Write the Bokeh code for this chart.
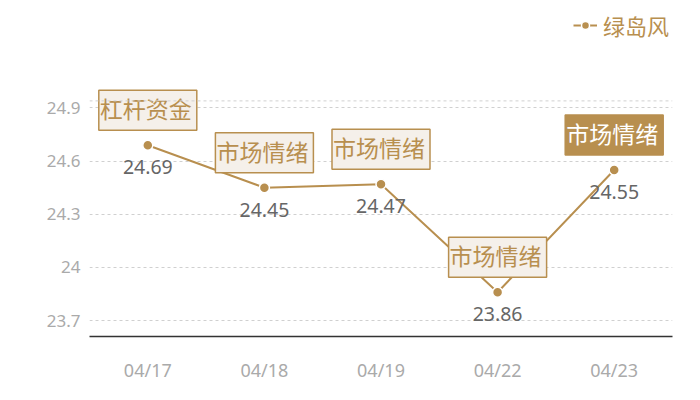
from bokeh.plotting import figure
from bokeh.models import (ColumnDataSource, FixedTicker, Legend, LegendItem, Span)
from bokeh.core.properties import value
from bokeh.embed import file_html
from bokeh.resources import INLINE

dates = ["04/17", "04/18", "04/19", "04/22", "04/23"]
prices = [24.69, 24.45, 24.47, 23.86, 24.55]
tags = ["杠杆资金", "市场情绪", "市场情绪", "市场情绪", "市场情绪"]
highlight = [False, False, False, False, True]
series_name = "绿岛风"
y_ticks = [23.7, 24.0, 24.3, 24.6, 24.9]
y_tick_labels = ["23.7", "24", "24.3", "24.6", "24.9"]
y_min, y_max = 23.61, 24.94

GOLD = "#b88f4f"
BOX_FILL = "#f5f0ea"
CJK = "Noto Sans CJK SC"
NUM = "Noto Sans"

FIG_H = 384
BORDER_BOTTOM = 46
AXIS_PX = 237  # pixel height between y_min and y_max
frame_px = FIG_H - BORDER_BOTTOM
# extend the (invisible) frame upward so boxes and legend are not clipped
y_top = y_min + (y_max - y_min) * frame_px / AXIS_PX

p = figure(width=684, height=FIG_H, x_range=dates, y_range=(y_min, y_top),
           output_backend="svg", toolbar_location=None,
           min_border_left=89, min_border_right=12,
           min_border_top=0, min_border_bottom=BORDER_BOTTOM)
p.outline_line_color = None
p.background_fill_color = "white"

# grid
p.xgrid.grid_line_color = None
p.ygrid.grid_line_color = "#d0d0d0"
p.ygrid.grid_line_dash = "3 3"
p.ygrid.grid_line_width = 1
p.yaxis.ticker = FixedTicker(ticks=y_ticks)
p.yaxis.major_label_overrides = {t: l for t, l in zip(y_ticks, y_tick_labels)}
p.add_layout(Span(location=y_max, dimension="width", line_color="#d0d0d0",
                  line_dash="3 3", line_width=1))

# axes
p.yaxis.axis_line_color = None
p.yaxis.major_tick_line_color = None
p.yaxis.minor_tick_line_color = None
p.yaxis.major_tick_out = 0
p.yaxis.minor_tick_out = 0
p.yaxis.major_label_text_color = "#aaaaaa"
p.yaxis.major_label_text_font = NUM
p.yaxis.major_label_text_font_size = "17px"
p.yaxis.major_label_standoff = 9

p.xaxis.axis_line_color = "#333333"
p.xaxis.axis_line_width = 1.5
p.xaxis.major_tick_line_color = None
p.xaxis.minor_tick_line_color = None
p.xaxis.major_tick_out = 0
p.xaxis.minor_tick_out = 0
p.xaxis.major_label_text_color = "#aaaaaa"
p.xaxis.major_label_text_font = NUM
p.xaxis.major_label_text_font_size = "18px"
p.xaxis.major_label_standoff = 21

src = ColumnDataSource(dict(
    x=dates, y=prices, lab=[f"{v:.2f}" for v in prices], tag=tags,
    fill=[GOLD if h else BOX_FILL for h in highlight],
    tcol=["white" if h else GOLD for h in highlight],
))

line_r = p.line("x", "y", source=src, line_color=GOLD, line_width=2)
circ_r = p.scatter("x", "y", source=src, size=10, fill_color=GOLD,
                   line_color="white", line_width=1.5)

# value labels below points
p.text("x", "y", text="lab", source=src, y_offset=22,
       text_align="center", text_baseline="middle",
       text_color="#666666", text_font=value(NUM), text_font_size="19.5px")

# tag boxes above points
p.text("x", "y", text="tag", source=src, y_offset=-35,
       text_align="center", text_baseline="middle",
       text_color="tcol", text_font=value(CJK), text_font_size="23px",
       background_fill_color="fill", border_line_color=GOLD,
       border_line_width=1.5, padding=[1, 5, 1, 5])

legend = Legend(items=[LegendItem(label=series_name, renderers=[line_r, circ_r])],
                location=(484, 295), orientation="horizontal",
                label_text_font=CJK, label_text_font_size="22px",
                label_text_color=GOLD, glyph_width=24, glyph_height=20,
                label_standoff=6, padding=0, margin=0, spacing=0,
                border_line_color=None, background_fill_alpha=0)
p.add_layout(legend)

open("out.html", "w").write(file_html(p, INLINE))
